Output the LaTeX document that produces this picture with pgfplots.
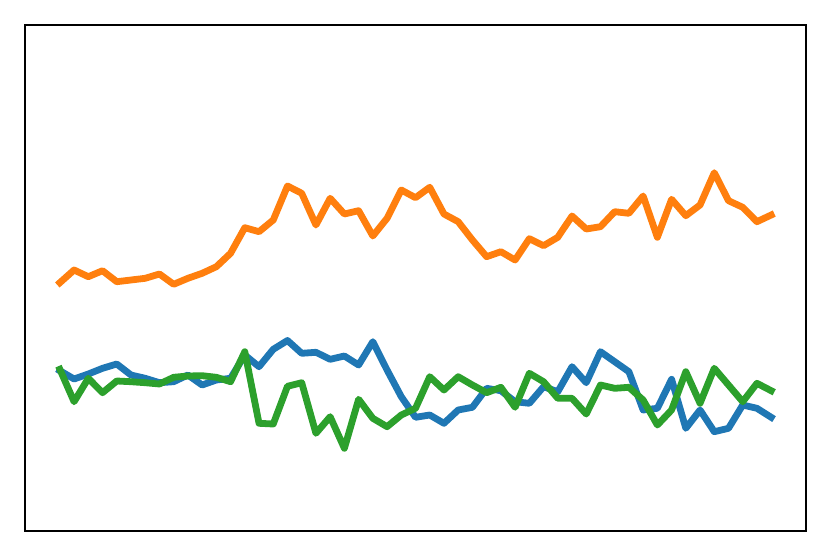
\documentclass[border=0pt]{standalone}
\usepackage{pgfplots}
\pgfplotsset{compat=1.18}
\definecolor{tabblue}{HTML}{1F77B4}
\definecolor{taborange}{HTML}{FF7F0E}
\definecolor{tabgreen}{HTML}{2CA02C}
\begin{document}
\begin{tikzpicture}
\useasboundingbox (-6.25pt,-6.5pt) rectangle (201.5pt,132.75pt);
\begin{axis}[
  at={(0,0)}, anchor=south west,
  scale only axis, width=195.25pt, height=126.5pt,
  xmin=-2.45, xmax=52.45, ymin=-531, ymax=-25,
  xtick=\empty, ytick=\empty,
  axis line style={line width=0.4pt},
  every axis plot/.append style={line width=1.7pt, line join=round, line cap=rect},
]
\addplot[tabblue] coordinates {
(0,-370.7)(1,-379)(2,-374)(3,-368.3)(4,-364)(5,-375)(6,-378.3)(7,-382.7)(8,-381.7)(9,-375)
(10,-385)(11,-380)(12,-378.3)(13,-355)(14,-366.7)(15,-349.3)(16,-340.5)(17,-353.3)(18,-352.3)(19,-359.3)
(20,-356)(21,-365)(22,-341.7)(23,-370)(24,-396.7)(25,-417.3)(26,-415)(27,-423.3)(28,-410)(29,-407.3)
(30,-388.3)(31,-390.7)(32,-401.7)(33,-403.3)(34,-386.7)(35,-391.7)(36,-366.7)(37,-382.7)(38,-351.7)(39,-361.7)
(40,-371.7)(41,-410)(42,-408.3)(43,-379.3)(44,-428.3)(45,-410)(46,-431.7)(47,-428.3)(48,-405)(49,-408.3)
(50,-417.3)};
\addplot[taborange] coordinates {
(0,-282.7)(1,-270)(2,-276.7)(3,-270.7)(4,-281.7)(5,-280)(6,-278.3)(7,-274)(8,-284.3)(9,-278.3)
(10,-273.3)(11,-266.7)(12,-253.3)(13,-227.7)(14,-231.7)(15,-220)(16,-186)(17,-193.3)(18,-225)(19,-198.3)
(20,-214)(21,-210.7)(22,-236)(23,-218.3)(24,-190)(25,-197.7)(26,-187.3)(27,-214)(28,-221.7)(29,-240)
(30,-256.7)(31,-251.7)(32,-260)(33,-238.7)(34,-245.7)(35,-237.3)(36,-216)(37,-229)(38,-226.7)(39,-211.7)
(40,-213.3)(41,-196)(42,-237.3)(43,-199.3)(44,-215.7)(45,-205)(46,-172.7)(47,-200.7)(48,-207.3)(49,-221.7)
(50,-215)};
\addplot[tabgreen] coordinates {
(0,-369.3)(1,-401.7)(2,-378.3)(3,-392.7)(4,-381)(5,-381.7)(6,-382.7)(7,-384)(8,-377.3)(9,-376)
(10,-375.7)(11,-377.3)(12,-381.7)(13,-351.7)(14,-423.3)(15,-424)(16,-386.3)(17,-382.7)(18,-433.3)(19,-416.7)
(20,-448.3)(21,-399.3)(22,-418.3)(23,-426.7)(24,-415)(25,-408.3)(26,-376.7)(27,-390)(28,-376.7)(29,-385)
(30,-392.7)(31,-387.3)(32,-407.3)(33,-373.3)(34,-381.7)(35,-398.3)(36,-398.3)(37,-414)(38,-385)(39,-388.3)
(40,-387.3)(41,-400)(42,-425)(43,-410)(44,-371.7)(45,-403.3)(46,-368.3)(47,-385)(48,-401.7)(49,-383.3)
(50,-390.7)};
\end{axis}
\end{tikzpicture}
\end{document}
